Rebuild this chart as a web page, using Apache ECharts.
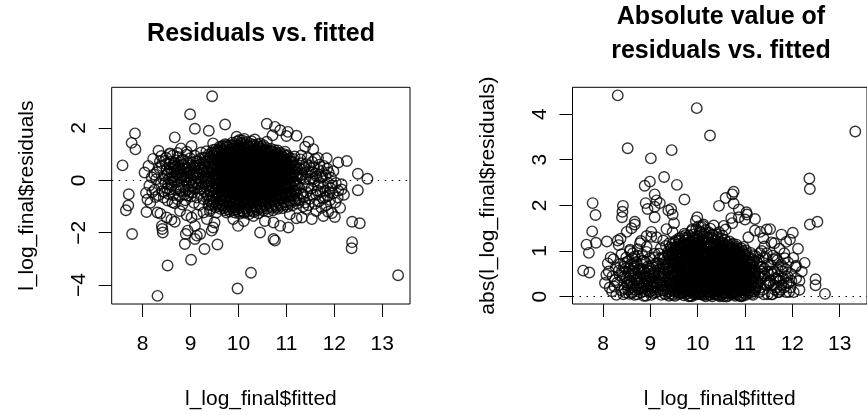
<!DOCTYPE html>
<html>
<head>
<meta charset="utf-8">
<script src="https://cdn.jsdelivr.net/npm/echarts@6/dist/echarts.min.js"></script>
<style>
  html, body { margin: 0; padding: 0; background: #ffffff; }
  #chart { width: 867px; height: 415px; }
</style>
</head>
<body>
<div id="chart"></div>
<script>
const FONT = '"Liberation Sans", Arial, Helvetica, sans-serif';

// Tick positions
const fittedTicks = [8, 9, 10, 11, 12, 13];
const residTicks = [-4, -2, 0, 2];
const absTicks = [0, 1, 2, 3, 4];

// Scattered observations away from the main cloud: [fitted, residual]
const isolatedPoints = [
  [7.58, 0.57], [7.65, -1.14], [7.70, -0.96], [7.71, -0.53], [7.78, -2.05], [7.84, 1.79], [7.77, 1.43], [7.85, 1.18],
  [8.31, -4.41], [8.33, 1.13], [8.31, -1.23], [8.37, -1.27], [8.40, -1.74], [8.42, -1.99], [8.41, -1.86], [8.50, -1.42],
  [8.52, -3.25], [8.67, 1.64], [8.67, -1.58], [8.60, -1.50],
  [8.88, -2.43], [8.90, -2.05], [8.94, -1.92], [8.99, 2.52], [9.01, -3.03], [9.02, 1.31], [9.09, 1.97], [9.09, -1.74],
  [9.13, -2.11], [9.09, -2.24], [9.20, -2.05], [9.29, -2.62], [9.38, 1.89], [9.45, 3.21], [9.47, 1.41], [9.47, -1.80],
  [9.50, -1.61], [9.56, -2.45], [9.72, 2.13],
  [8.92, -1.33], [9.02, -1.42], [9.27, -1.23], [9.34, -1.48], [8.67, -0.88], [8.78, -1.17], [9.13, -1.30], [9.40, -1.17],
  [9.44, -1.92], [8.92, 1.09], [8.57, 1.03], [8.80, 1.22],
  [9.98, -4.13], [10.26, -3.53],
  [9.89, -1.48], [9.99, -1.74], [10.11, -1.55], [10.45, -1.99], [10.73, -2.24], [10.76, -2.30], [10.73, -1.61],
  [10.55, -1.55], [10.87, -1.74], [11.04, -1.80], [11.07, -1.30], [11.21, -1.45], [11.32, -1.42], [9.75, -1.23],
  [10.31, -1.36], [9.54, -1.23],
  [9.96, 1.66], [10.07, 1.53], [10.34, 1.56], [10.45, 1.41], [10.59, 1.47], [9.75, 1.35], [9.54, 1.09], [9.61, 1.28],
  [10.59, 2.16], [10.76, 2.04], [10.87, 1.91], [11.03, 1.85], [11.00, 1.69], [11.21, 1.70], [10.71, 1.72], [11.46, 1.47],
  [11.39, 1.28], [11.56, 1.19], [11.60, 0.82], [11.84, 0.84], [12.08, 0.68], [12.26, 0.74], [12.49, 0.25], [12.69, 0.06],
  [12.49, -0.38], [12.15, -0.35], [12.37, -1.58], [12.53, -1.64], [12.37, -2.36], [12.36, -2.59], [13.33, -3.62]
];

// Low fitted values (about 8 to 9.35)
const leftBandPoints = [
  [8.04, 0.30], [8.12, 0.55], [8.07, -0.48], [8.14, -0.20], [8.10, -0.73], [8.08, -1.21], [8.16, -0.86], [8.19, 0.12],
  [8.22, 0.82], [8.25, -0.36], [8.28, 0.04], [8.30, 0.31], [8.33, -0.57], [8.35, 0.47], [8.27, -0.64], [8.38, -0.14],
  [8.24, 0.22], [8.20, -0.45],
  [8.40, 0.55], [8.41, -0.42], [8.39, 0.93], [8.45, 0.18], [8.44, -0.66], [8.46, 0.74], [8.47, -0.09], [8.50, 0.41],
  [8.51, -0.31], [8.49, 0.86], [8.52, -0.77], [8.55, 0.06], [8.56, 0.61], [8.54, -0.52], [8.57, 1.00], [8.60, 0.29],
  [8.61, -0.21], [8.59, 0.71], [8.62, -0.84], [8.63, 0.95], [8.65, 0.49], [8.66, -0.04], [8.64, -0.56], [8.68, 0.15],
  [8.70, 0.76], [8.71, 0.24], [8.69, -0.36], [8.72, -0.71], [8.73, 1.04], [8.75, 0.44], [8.76, -0.16], [8.74, 0.89],
  [8.77, -0.61], [8.80, 0.09], [8.81, 0.59], [8.79, -0.41], [8.82, 0.34], [8.83, -0.92], [8.85, 0.79], [8.86, -0.26],
  [8.84, 0.19], [8.87, -0.54], [8.90, 0.51], [8.91, -0.02], [8.89, -0.76], [8.92, 0.98], [8.93, 0.29], [8.95, 0.66],
  [8.96, -0.34], [8.94, 0.14], [8.97, -0.11], [9.00, 0.39], [9.01, -0.62], [8.99, 0.84], [9.02, 0.04], [9.03, -0.21],
  [9.05, 0.69], [9.06, 0.21], [9.04, -0.46], [9.07, -0.86], [9.10, 0.56], [9.11, -0.09], [9.09, 0.94], [9.12, 0.31],
  [9.13, -0.66], [9.15, 0.11], [9.16, 0.74], [9.14, -0.29], [9.17, 0.46], [9.20, 0.61], [9.21, -0.49], [9.19, 0.26],
  [9.22, 1.06], [9.23, -0.04], [9.18, -0.94], [9.25, 0.86], [9.26, 0.36], [9.24, -0.24], [9.27, -0.71], [9.30, 0.51],
  [9.31, 0.06], [9.29, -0.44], [9.32, 0.71], [9.33, 1.11], [9.28, -0.14],
  [8.43, 0.05], [8.48, 0.62], [8.53, -0.15], [8.58, 0.45], [8.62, 0.10], [8.67, 0.66], [8.72, -0.05], [8.77, 0.30],
  [8.82, 0.78], [8.86, 0.02], [8.91, 0.25], [8.95, -0.58], [8.98, 0.55], [9.03, 0.22], [9.08, -0.32], [9.12, 0.72],
  [9.17, -0.15], [9.22, 0.42], [9.26, 0.14], [9.31, -0.25], [9.34, 0.36], [8.46, -0.45], [8.57, -0.35], [8.66, 0.35],
  [8.74, 0.58], [8.85, 0.45], [8.98, -0.45], [9.08, 0.46], [9.19, 0.82], [9.28, 0.62], [9.35, -0.60], [8.36, 0.72],
  [8.52, 0.25], [8.69, 0.52], [8.88, 0.12], [9.15, 0.32],
  [8.55, 0.33], [8.64, 0.62], [8.71, 0.40], [8.79, 0.18], [8.84, 0.60], [8.93, 0.44], [9.00, 0.12], [9.06, 0.52],
  [9.11, 0.20], [9.18, 0.58], [9.24, 0.30], [9.30, 0.85], [8.60, -0.08], [8.75, -0.30], [8.90, -0.40], [9.05, -0.08],
  [9.20, -0.32], [9.32, -0.05]
];

// High fitted values (about 11.25 to 12.2)
const rightBandPoints = [
  [11.28, 0.45], [11.27, -0.30], [11.29, 0.80], [11.26, -0.75], [11.30, 0.10],
  [11.33, 0.20], [11.34, -0.55], [11.32, 0.65], [11.35, -1.00],
  [11.38, 0.50], [11.37, -0.15], [11.39, -0.85],
  [11.43, 0.30], [11.42, -0.45], [11.44, 0.85], [11.41, -1.10],
  [11.48, 0.05], [11.47, 0.55], [11.49, -0.70],
  [11.53, 0.35], [11.52, -0.30], [11.53, -1.48], [11.54, 0.70],
  [11.58, -0.05], [11.57, 0.50], [11.59, -0.90],
  [11.62, -0.55], [11.63, 0.15], [11.62, -1.17],
  [11.67, 0.40], [11.66, -0.20], [11.68, -0.80], [11.69, 0.60],
  [11.72, 0.10], [11.71, -0.45], [11.73, -1.05], [11.74, 0.35],
  [11.77, -0.25], [11.78, 0.55], [11.76, -0.70], [11.77, -1.36],
  [11.82, 0.20], [11.81, -0.40], [11.83, -0.95],
  [11.87, -0.10], [11.86, -0.60], [11.88, 0.30], [11.87, -1.20],
  [11.92, -0.30], [11.93, 0.10], [11.91, -0.75],
  [11.97, -0.50], [11.98, 0.35], [11.96, -0.20],
  [12.02, -0.85], [12.03, -0.10], [12.01, -1.40],
  [12.08, -0.40], [12.07, -0.65],
  [12.15, -0.15], [12.20, -0.55], [12.12, -1.05], [11.95, -1.25],
  [11.26, 0.25], [11.30, -0.50], [11.35, 0.40], [11.40, 0.05], [11.45, -0.25], [11.50, 0.30], [11.55, -0.55],
  [11.60, 0.25], [11.65, -0.40], [11.70, -0.10], [11.75, 0.15], [11.80, -0.65], [11.85, 0.45], [11.90, -0.45],
  [11.36, -0.65], [11.46, -0.95], [11.56, 0.05], [11.66, 0.85], [11.31, 0.95], [11.41, 0.62]
];

// Main cloud, listed by fitted value: [fitted, [residuals...]]
const coreColumns = [
  [9.37, [-0.93, -0.56, -0.18, 0.12, 0.41, 0.72, 0.98]],
  [9.42, [-0.82, -0.38, -0.07, 0.27, 0.53, 0.87, -1.08]],
  [9.47, [-0.91, -0.58, -0.31, 0.04, 0.36, 0.63, 0.96, 1.16]],
  [9.52, [-1.03, -0.71, -0.33, 0.02, 0.28, 0.61, 0.89, 1.18]],
  [9.57, [-0.86, -0.48, -0.16, 0.21, 0.52, 0.78, 1.06]],
  [9.62, [-1.09, -0.77, -0.41, -0.08, 0.24, 0.57, 0.84, 1.23]],
  [9.67, [-0.97, -0.59, -0.27, 0.11, 0.39, 0.71, 1.02, 1.31]],
  [9.72, [-1.14, -0.81, -0.44, -0.12, 0.19, 0.51, 0.79, 1.12, 1.38]],
  [9.77, [-1.01, -0.63, -0.29, 0.06, 0.37, 0.64, 0.97, 1.26]],
  [9.82, [-1.19, -0.86, -0.52, -0.14, 0.16, 0.46, 0.74, 1.07, 1.34]],
  [9.87, [-1.04, -0.69, -0.36, 0.01, 0.29, 0.62, 0.91, 1.21, 1.44]],
  [9.92, [-1.23, -0.92, -0.54, -0.21, 0.09, 0.42, 0.69, 1.01, 1.29]],
  [9.97, [-1.11, -0.74, -0.39, -0.06, 0.26, 0.54, 0.86, 1.17, 1.48]],
  [10.02, [-1.28, -0.96, -0.61, -0.24, 0.07, 0.34, 0.66, 0.94, 1.24, 1.54]],
  [10.07, [-1.16, -0.79, -0.46, -0.11, 0.21, 0.49, 0.81, 1.09, 1.41]],
  [10.12, [-1.24, -0.89, -0.56, -0.19, 0.11, 0.41, 0.71, 0.99, 1.31, 1.58]],
  [10.17, [-1.06, -0.72, -0.34, 0.01, 0.31, 0.59, 0.91, 1.19, 1.46]],
  [10.22, [-1.29, -0.94, -0.59, -0.26, 0.04, 0.36, 0.64, 0.96, 1.26]],
  [10.27, [-1.09, -0.76, -0.41, -0.04, 0.24, 0.56, 0.84, 1.14, 1.49]],
  [10.32, [-1.21, -0.84, -0.51, -0.16, 0.14, 0.44, 0.76, 1.04, 1.36]],
  [10.37, [-0.99, -0.66, -0.29, 0.06, 0.34, 0.66, 0.94, 1.24]],
  [10.42, [-1.26, -0.91, -0.54, -0.21, 0.11, 0.39, 0.71, 1.01, 1.29]],
  [10.47, [-1.04, -0.69, -0.36, 0.01, 0.29, 0.61, 0.89, 1.21]],
  [10.52, [-1.16, -0.81, -0.44, -0.09, 0.19, 0.51, 0.79, 1.11, 1.34]],
  [10.57, [-0.94, -0.61, -0.24, 0.09, 0.41, 0.69, 1.01, 1.24]],
  [10.62, [-1.19, -0.86, -0.49, -0.16, 0.16, 0.44, 0.76, 1.04]],
  [10.67, [-1.01, -0.64, -0.31, 0.06, 0.34, 0.66, 0.94, 1.21]],
  [10.72, [-1.14, -0.79, -0.46, -0.09, 0.21, 0.49, 0.81, 1.09]],
  [10.77, [-0.96, -0.59, -0.26, 0.11, 0.39, 0.71, 0.99]],
  [10.82, [-1.09, -0.76, -0.39, -0.06, 0.26, 0.54, 0.86, 1.14]],
  [10.87, [-0.91, -0.54, -0.21, 0.14, 0.46, 0.74, 1.04]],
  [10.92, [-1.06, -0.69, -0.36, 0.01, 0.31, 0.59, 0.91]],
  [10.97, [-0.84, -0.51, -0.14, 0.19, 0.51, 0.79, 1.09]],
  [11.02, [-1.01, -0.64, -0.31, 0.04, 0.36, 0.64, 0.96]],
  [11.07, [-0.79, -0.46, -0.09, 0.24, 0.56, 0.84]],
  [11.12, [-0.96, -0.59, -0.26, 0.09, 0.41, 0.69]],
  [11.17, [-0.74, -0.41, -0.04, 0.31, 0.59, 0.91]],
  [11.22, [-0.89, -0.56, -0.19, 0.16, 0.44]]
];

// Main cloud, second set of observations between the columns above
const coreColumnsB = [
  [9.395, [-0.75, -0.40, -0.02, 0.30, 0.62, 0.90]],
  [9.445, [-0.95, -0.62, -0.25, 0.15, 0.46, 0.78, 1.05]],
  [9.495, [-0.82, -0.45, -0.12, 0.20, 0.50, 0.80, 1.08]],
  [9.545, [-0.92, -0.55, -0.20, 0.12, 0.42, 0.74, 1.02]],
  [9.595, [-0.98, -0.62, -0.26, 0.05, 0.38, 0.68, 0.97, 1.15]],
  [9.645, [-0.93, -0.55, -0.18, 0.18, 0.54, 0.86, 1.12]],
  [9.695, [-1.06, -0.76, -0.42, -0.08, 0.25, 0.55, 0.88, 1.18]],
  [9.745, [-0.97, -0.62, -0.27, 0.11, 0.44, 0.73, 1.03, 1.29]],
  [9.795, [-1.10, -0.80, -0.46, -0.12, 0.20, 0.51, 0.83, 1.13]],
  [9.845, [-0.99, -0.68, -0.33, 0.02, 0.31, 0.61, 0.90, 1.20]],
  [9.895, [-1.13, -0.85, -0.51, -0.17, 0.14, 0.45, 0.77, 1.06, 1.36]],
  [9.945, [-1.02, -0.72, -0.38, -0.04, 0.25, 0.57, 0.86, 1.15]],
  [9.995, [-1.19, -0.90, -0.56, -0.22, 0.11, 0.39, 0.70, 1.01, 1.33]],
  [10.045, [-1.05, -0.76, -0.41, -0.07, 0.23, 0.53, 0.84, 1.13, 1.43]],
  [10.095, [-1.20, -0.92, -0.58, -0.25, 0.06, 0.36, 0.65, 0.96, 1.25]],
  [10.145, [-1.07, -0.74, -0.40, -0.04, 0.26, 0.56, 0.86, 1.16, 1.38]],
  [10.195, [-1.18, -0.87, -0.53, -0.18, 0.15, 0.45, 0.77, 1.06, 1.32]],
  [10.245, [-1.04, -0.75, -0.42, -0.10, 0.20, 0.51, 0.80, 1.11, 1.40]],
  [10.295, [-1.16, -0.87, -0.56, -0.22, 0.09, 0.39, 0.70, 0.99, 1.29]],
  [10.345, [-1.05, -0.73, -0.38, -0.05, 0.25, 0.55, 0.86, 1.15]],
  [10.395, [-1.13, -0.82, -0.48, -0.14, 0.18, 0.49, 0.80, 1.10, 1.37]],
  [10.445, [-1.00, -0.70, -0.37, -0.03, 0.26, 0.55, 0.86, 1.14]],
  [10.495, [-1.10, -0.80, -0.52, -0.18, 0.14, 0.44, 0.73, 1.04, 1.28]],
  [10.545, [-0.98, -0.68, -0.33, 0.01, 0.31, 0.62, 0.92, 1.17]],
  [10.595, [-1.08, -0.76, -0.42, -0.08, 0.26, 0.56, 0.87, 1.12]],
  [10.645, [-0.94, -0.66, -0.33, 0.02, 0.30, 0.58, 0.88, 1.13]],
  [10.695, [-1.05, -0.74, -0.40, -0.06, 0.24, 0.54, 0.84, 1.08]],
  [10.745, [-0.91, -0.62, -0.28, 0.06, 0.36, 0.64, 0.94, 1.16]],
  [10.795, [-1.02, -0.70, -0.36, -0.02, 0.29, 0.57, 0.86, 1.05]],
  [10.845, [-0.86, -0.58, -0.24, 0.10, 0.40, 0.68, 0.96]],
  [10.895, [-0.97, -0.66, -0.32, 0.02, 0.32, 0.61, 0.90]],
  [10.945, [-0.82, -0.52, -0.19, 0.15, 0.44, 0.74, 1.00]],
  [10.995, [-0.92, -0.60, -0.27, 0.08, 0.38, 0.66, 0.93]],
  [11.045, [-0.76, -0.46, -0.14, 0.19, 0.49, 0.78]],
  [11.095, [-0.86, -0.54, -0.21, 0.13, 0.43, 0.72]],
  [11.145, [-0.70, -0.38, -0.06, 0.25, 0.55, 0.82]],
  [11.195, [-0.78, -0.45, -0.12, 0.20, 0.50]]
];

// Densest part of the cloud
const centreColumns = [
  [9.608, [-0.59, -0.25, 0.08, 0.40, 0.70]],
  [9.658, [-0.43, -0.08, 0.25, 0.55, 0.86]],
  [9.708, [-0.62, -0.28, 0.03, 0.35, 0.65]],
  [9.758, [-0.46, -0.12, 0.21, 0.50, 0.80]],
  [9.808, [-0.69, -0.33, 0.01, 0.31, 0.60, 0.90]],
  [9.858, [-0.52, -0.17, 0.15, 0.46, 0.76]],
  [9.908, [-0.73, -0.37, -0.06, 0.25, 0.55, 0.85]],
  [9.958, [-0.57, -0.22, 0.10, 0.40, 0.70, 1.00]],
  [10.008, [-0.78, -0.42, -0.08, 0.20, 0.50, 0.80]],
  [10.058, [-0.62, -0.28, 0.05, 0.35, 0.65, 0.95]],
  [10.108, [-0.72, -0.37, -0.04, 0.26, 0.56, 0.85]],
  [10.158, [-0.53, -0.16, 0.16, 0.45, 0.75, 1.05]],
  [10.208, [-0.76, -0.42, -0.11, 0.20, 0.50, 0.80]],
  [10.258, [-0.58, -0.22, 0.10, 0.40, 0.70, 0.99]],
  [10.308, [-0.67, -0.33, -0.01, 0.29, 0.60, 0.90]],
  [10.358, [-0.47, -0.11, 0.20, 0.50, 0.80]],
  [10.408, [-0.72, -0.37, -0.05, 0.25, 0.55, 0.86]],
  [10.458, [-0.52, -0.17, 0.15, 0.45, 0.75]],
  [10.508, [-0.62, -0.26, 0.05, 0.35, 0.65, 0.95]],
  [10.558, [-0.42, -0.07, 0.25, 0.55, 0.85]],
  [10.608, [-0.67, -0.32, 0.00, 0.30, 0.60, 0.90]],
  [10.658, [-0.47, -0.12, 0.20, 0.50, 0.80]],
  [10.708, [-0.62, -0.27, 0.06, 0.35, 0.65, 0.95]],
  [10.758, [-0.42, -0.07, 0.25, 0.55, 0.85]],
  [10.808, [-0.57, -0.22, 0.10, 0.40, 0.70]],
  [10.858, [-0.37, -0.03, 0.30, 0.60, 0.89]],
  [10.908, [-0.52, -0.17, 0.16, 0.45, 0.75]],
  [10.958, [-0.32, 0.02, 0.35, 0.65]],
  [11.008, [-0.47, -0.13, 0.20, 0.50, 0.80]]
];

function columnsToPoints(cols) {
  const out = [];
  cols.forEach(([f, rs]) => rs.forEach(r => out.push([f, r])));
  return out;
}

const observations = isolatedPoints.concat(
  leftBandPoints, rightBandPoints,
  columnsToPoints(coreColumns), columnsToPoints(coreColumnsB), columnsToPoints(centreColumns)
);
const absObservations = observations.map(([f, r]) => [f, Math.abs(r)]);

const minusSign = v => String(v).replace('-', '\u2212');

function xAxisFor(idx) {
  return {
    type: 'value', gridIndex: idx, min: 7.354, max: 13.578,
    axisLine: { show: false, onZero: false }, splitLine: { show: false },
    axisTick: { show: true, length: 13, customValues: fittedTicks, lineStyle: { color: '#000', width: 1 } },
    axisLabel: { customValues: fittedTicks, fontSize: 21, fontFamily: FONT, color: '#000', margin: 30 },
    name: 'l_log_final$fitted', nameLocation: 'middle', nameGap: 85,
    nameTextStyle: { fontSize: 21, fontFamily: FONT, color: '#000' }
  };
}

function yAxisFor(idx, min, max, ticks, title) {
  return {
    type: 'value', gridIndex: idx, min: min, max: max,
    axisLine: { show: false, onZero: false }, splitLine: { show: false },
    axisTick: { show: true, length: 13, customValues: ticks, lineStyle: { color: '#000', width: 1 } },
    axisLabel: { customValues: ticks, rotate: 90, fontSize: 21, fontFamily: FONT, color: '#000', margin: 22, formatter: minusSign },
    name: title, nameLocation: 'middle', nameGap: 74,
    nameTextStyle: { fontSize: 21, fontFamily: FONT, color: '#000' }
  };
}

function scatterSeries(idx, data) {
  return {
    type: 'scatter', xAxisIndex: idx, yAxisIndex: idx, data: data,
    symbol: 'circle', symbolSize: 10.5, silent: true, animation: false,
    large: false, progressive: 0,
    itemStyle: { color: 'rgba(0,0,0,0)', borderColor: '#000', borderWidth: 1.4 },
    emphasis: { disabled: true },
    markLine: {
      silent: true, animation: false, symbol: ['none', 'none'], label: { show: false },
      lineStyle: { color: '#000', width: 1.2, type: [1.5, 5.5] },
      emphasis: { disabled: true },
      data: [{ yAxis: 0 }]
    }
  };
}

const chart = echarts.init(document.getElementById('chart'), null, { renderer: 'canvas' });
chart.setOption({
  backgroundColor: '#ffffff',
  animation: false,
  grid: [
    { left: 111.7, top: 87.3, width: 298.3, height: 218.4, show: true, borderColor: '#000', borderWidth: 1, backgroundColor: 'transparent' },
    { left: 572.5, top: 87.3, width: 298.3, height: 218.4, show: true, borderColor: '#000', borderWidth: 1, backgroundColor: 'transparent' }
  ],
  xAxis: [xAxisFor(0), xAxisFor(1)],
  yAxis: [
    yAxisFor(0, -4.72, 3.55, residTicks, 'l_log_final$residuals'),
    yAxisFor(1, -0.161, 4.587, absTicks, 'abs(l_log_final$residuals)')
  ],
  graphic: [
    { type: 'text', x: 261, y: 34, silent: true,
      style: { text: 'Residuals vs. fitted', fill: '#000', font: 'bold 25px ' + FONT, align: 'center', verticalAlign: 'middle' } },
    { type: 'text', x: 721, y: 34, silent: true,
      style: { text: 'Absolute value of\nresiduals vs. fitted', fill: '#000', font: 'bold 25px ' + FONT, align: 'center', verticalAlign: 'middle', lineHeight: 34 } }
  ],
  series: [scatterSeries(0, observations), scatterSeries(1, absObservations)]
});
</script>
</body>
</html>
